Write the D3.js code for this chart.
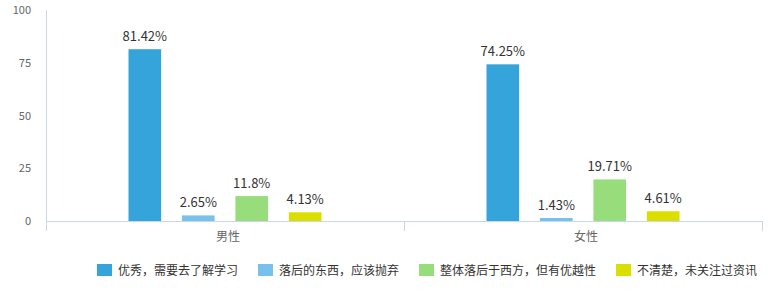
<!DOCTYPE html>
<html>
<head>
<meta charset="utf-8">
<script src="https://cdn.jsdelivr.net/npm/d3@7"></script>
<style>
  body { margin: 0; background: #fff; }
  text { font-family: "Noto Sans CJK SC", "Noto Sans", sans-serif; }
</style>
</head>
<body>
<script>
// chart data
const categories = ["男性", "女性"];
const seriesNames = ["优秀，需要去了解学习", "落后的东西，应该抛弃", "整体落后于西方，但有优越性", "不清楚，未关注过资讯"];
const male = [81.42, 2.65, 11.8, 4.13];
const female = [74.25, 1.43, 19.71, 4.61];
const colors = ["#34a4db", "#78c1ec", "#97dd7b", "#dadf00"];
const yTicks = [0, 25, 50, 75, 100];

const values = [male, female];

const W = 772, H = 300;
const plotLeft = 46, plotRight = 762, plotTop = 10, plotBottom = 221;

let svg = d3.select("body").append("svg")
    .attr("width", W)
    .attr("height", H);

let x0 = d3.scaleBand().domain(categories).range([plotLeft, plotRight]).padding(0);
let x1 = d3.scaleBand().domain(d3.range(seriesNames.length))
    .range([-96.5, 96.5]).paddingInner(0.389).paddingOuter(0);
let y = d3.scaleLinear().domain([0, 100]).range([plotBottom, plotTop]);

// y axis
let yAxis = svg.append("g")
    .attr("transform", "translate(" + plotLeft + ",0)")
    .call(d3.axisLeft(y).tickValues(yTicks).tickSize(0).tickPadding(15));
yAxis.select(".domain").remove();
yAxis.selectAll("text")
    .attr("fill", "#666")
    .style("font-size", "11px");

svg.append("line")
    .attr("x1", plotLeft + 0.5).attr("x2", plotLeft + 0.5)
    .attr("y1", plotTop).attr("y2", plotBottom + 10)
    .attr("stroke", "#ccd6eb");

// x axis line and ticks at band edges
svg.append("line")
    .attr("x1", plotLeft).attr("x2", plotRight)
    .attr("y1", plotBottom + 0.5).attr("y2", plotBottom + 0.5)
    .attr("stroke", "#ccd6eb");

let edges = categories.map(c => x0(c) + x0.bandwidth());
svg.selectAll("line.xtick").data(edges)
    .enter().append("line")
    .attr("class", "xtick")
    .attr("x1", d => Math.round(d) + 0.5).attr("x2", d => Math.round(d) + 0.5)
    .attr("y1", plotBottom).attr("y2", plotBottom + 10)
    .attr("stroke", "#ccd6eb");

svg.selectAll("text.xlabel").data(categories)
    .enter().append("text")
    .attr("class", "xlabel")
    .attr("x", d => x0(d) + x0.bandwidth() / 2 + 3)
    .attr("y", plotBottom + 20)
    .attr("text-anchor", "middle")
    .attr("fill", "#666")
    .style("font-size", "12px")
    .text(d => d);

// bars
let groups = svg.selectAll("g.cat").data(categories)
    .enter().append("g")
    .attr("class", "cat")
    .attr("transform", d => "translate(" + (x0(d) + x0.bandwidth() / 2) + ",0)");

groups.each(function(c, ci) {
    let g = d3.select(this);
    let data = values[ci].map((v, i) => ({i: i, v: v}));
    g.selectAll("rect").data(data)
        .enter().append("rect")
        .attr("x", d => x1(d.i))
        .attr("y", d => y(d.v))
        .attr("width", x1.bandwidth())
        .attr("height", d => plotBottom - y(d.v))
        .attr("fill", d => colors[d.i]);
    g.selectAll("text").data(data)
        .enter().append("text")
        .attr("x", d => x1(d.i) + x1.bandwidth() / 2)
        .attr("y", d => y(d.v) - 8)
        .attr("text-anchor", "middle")
        .attr("fill", "#333")
        .style("font-size", "13px")
        .text(d => d.v + "%");
});

// legend
let legend = svg.append("g").attr("transform", "translate(97,264)");
let lx = 0;
seriesNames.forEach(function(name, i) {
    let item = legend.append("g").attr("transform", "translate(" + lx + ",0)");
    item.append("rect")
        .attr("width", 15).attr("height", 12)
        .attr("fill", colors[i]);
    let t = item.append("text")
        .attr("x", 21).attr("y", 11)
        .attr("fill", "#333")
        .style("font-size", "12px")
        .text(name);
    lx += 21 + t.node().getComputedTextLength() + 20;
});
</script>
</body>
</html>
